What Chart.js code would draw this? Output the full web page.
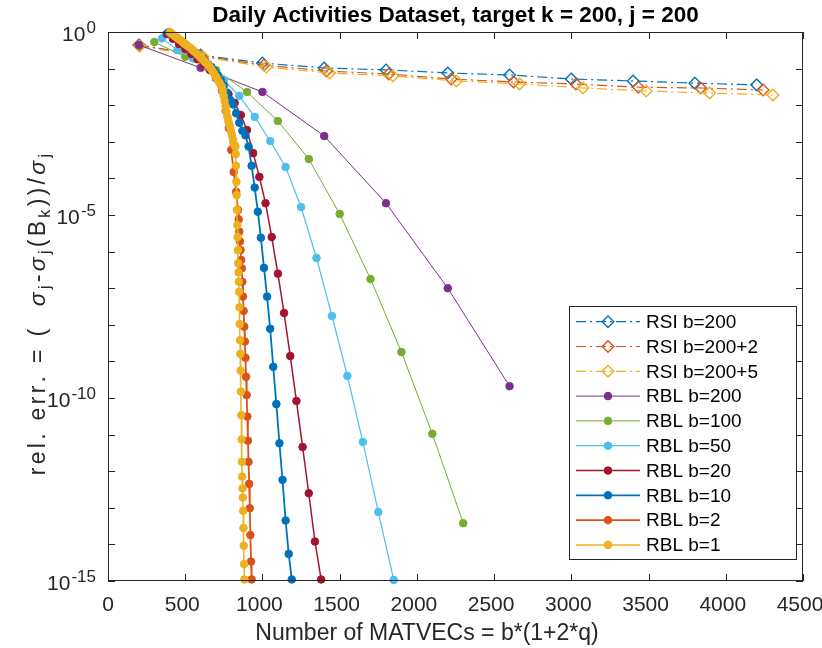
<!DOCTYPE html>
<html>
<head>
<meta charset="utf-8">
<title>Daily Activities Dataset</title>
<script src="https://cdn.jsdelivr.net/npm/chart.js@4.4.1/dist/chart.umd.min.js"></script>
<style>
  html, body { margin: 0; padding: 0; background: #fff; }
  canvas { display: block; }
</style>
</head>
<body>
<canvas id="relErrChart" width="822" height="648"></canvas>
<script>
// ---- data ----
const xTickValues = [0, 500, 1000, 1500, 2000, 2500, 3000, 3500, 4000, 4500];
const yDecades = [0, -1, -2, -3, -4, -5, -6, -7, -8, -9, -10, -11, -12, -13, -14, -15];
const yLabelExponents = [0, -5, -10, -15];

const seriesLabels = ['RSI b=200', 'RSI b=200+2', 'RSI b=200+5', 'RBL b=200', 'RBL b=100',
  'RBL b=50', 'RBL b=20', 'RBL b=10', 'RBL b=2', 'RBL b=1'];

const rsi200X = [200, 600, 1000, 1400, 1800, 2200, 2600, 3000, 3400, 3800, 4200];
const rsi200Y = [0.44, 0.235, 0.142, 0.104, 0.092, 0.076, 0.067, 0.052, 0.046, 0.040, 0.036];
const rsi202X = [202, 606, 1010, 1414, 1818, 2222, 2626, 3030, 3434, 3838, 4242];
const rsi202Y = [0.44, 0.22, 0.125, 0.086, 0.071, 0.052, 0.043, 0.038, 0.031, 0.0295, 0.026];
const rsi205X = [205, 615, 1025, 1435, 1845, 2255, 2665, 3075, 3485, 3895, 4305];
const rsi205Y = [0.41, 0.21, 0.11, 0.076, 0.063, 0.046, 0.038, 0.0295, 0.0244, 0.0215, 0.019];

const rbl200X = [200, 600, 1000, 1400, 1800, 2200, 2600];
const rbl200Y = [0.44, 0.105, 0.023, 1.44e-3, 2.1e-5, 1.0e-7, 2.1e-10];

const rbl100X = [300, 500, 700, 900, 1100, 1300, 1500, 1700, 1900, 2100, 2300];
const rbl100Y = [0.53, 0.21, 0.091, 0.023, 3.7e-3, 3.4e-4, 1.07e-5, 1.78e-7, 1.8e-9, 1.05e-11, 3.8e-14];

const rbl50X = [350, 450, 550, 650, 750, 850, 950, 1050, 1150, 1250, 1350, 1450, 1550, 1650, 1750, 1850];
const rbl50Y = [0.67, 0.32, 0.19, 0.104, 0.049, 0.018, 4.8e-3, 1.05e-3, 2.05e-4, 1.65e-5, 6.7e-7,
  1.74e-8, 4.0e-10, 6.3e-12, 7.7e-14, 1.07e-15];

const rbl20X = [380, 420, 460, 500, 540, 580, 620, 660, 700, 740, 780, 820, 860, 900, 940, 980,
  1020, 1060, 1100, 1140, 1180, 1220, 1260, 1300, 1340, 1380];
const rbl20Y = [0.88, 0.65, 0.47, 0.35, 0.25, 0.18, 0.135, 0.091, 0.059, 0.034, 0.020, 0.0115,
  5.4e-3, 2.1e-3, 4.9e-4, 1.1e-4, 2.1e-5, 2.5e-6, 2.5e-7, 2.1e-8, 1.4e-9, 8.3e-11, 4.6e-12,
  2.5e-13, 1.2e-14, 1.1e-15];

const rbl10X = [390, 410, 430, 450, 470, 490, 510, 530, 550, 570, 590, 610, 630, 650, 670, 690,
  710, 730, 750, 770, 790, 810, 830, 850, 870, 890, 910, 930, 950, 970, 990, 1010, 1030, 1050,
  1070, 1090, 1110, 1130, 1150, 1170, 1190];
const rbl10Y = [0.97, 0.88, 0.78, 0.69, 0.59, 0.50, 0.43, 0.37, 0.31, 0.27, 0.23, 0.19, 0.16,
  0.13, 0.11, 0.086, 0.067, 0.049, 0.035, 0.022, 0.014, 0.0105, 6.0e-3, 3.3e-3, 2.0e-3, 1.5e-3,
  7.4e-4, 2.2e-4, 5.6e-5, 1.23e-5, 2.4e-6, 3.6e-7, 5.9e-8, 7.8e-9, 7.1e-10, 6.8e-11, 5.8e-12,
  5.8e-13, 4.5e-14, 5.5e-15, 1.1e-15];

const rbl2X = [402, 450, 498, 550, 598, 650, 698, 738, 762, 782, 798, 814, 830, 842, 846, 850,
  854, 858, 862, 866, 870, 874, 878, 882, 886, 890, 894, 898, 902, 906, 910, 914, 918, 922, 926, 930];
const rbl2Y = [0.97, 0.68, 0.46, 0.31, 0.19, 0.11, 0.055, 0.025, 7.0e-3, 2.4e-3, 6.0e-4, 1.5e-4,
  4.3e-5, 1.37e-5, 7.6e-6, 3.5e-6, 1.9e-6, 1.1e-6, 5.9e-7, 3.5e-7, 1.5e-7, 5.9e-8, 2.4e-8,
  8.9e-9, 3.5e-9, 1.26e-9, 3.8e-10, 1.2e-10, 3.1e-11, 6.8e-12, 1.8e-12, 4.5e-13, 9.7e-14,
  1.8e-14, 3.4e-15, 1.1e-15];

const rbl1X = [401, 413, 425, 437, 449, 461, 473, 485, 497, 509, 521, 533, 545, 557, 569, 581,
  593, 605, 617, 629, 641, 653, 665, 677, 689, 701, 711, 721, 729, 737, 743, 749, 755, 761, 767,
  773, 779, 785, 791, 797, 803, 809, 815, 821,
  825, 827, 829, 831, 833, 835, 837, 839, 841, 843, 845, 847, 849, 851, 853, 855, 857, 859, 861,
  863, 865, 867, 869, 871, 873, 875, 877, 879, 881, 883];
const rbl1Y = [0.98, 0.89, 0.81, 0.74, 0.69, 0.63, 0.58, 0.52, 0.48, 0.44, 0.40, 0.37, 0.33,
  0.30, 0.27, 0.24, 0.22, 0.195, 0.17, 0.15, 0.135, 0.12, 0.102, 0.085, 0.071, 0.059, 0.049,
  0.042, 0.036, 0.032, 0.025, 0.018, 0.013, 9.3e-3, 6.8e-3, 4.9e-3, 3.8e-3, 3.0e-3, 2.5e-3,
  1.9e-3, 1.5e-3, 1.15e-3, 8.7e-4, 7.9e-4,
  7.3e-4, 4.6e-4, 2.2e-4, 8.1e-5, 3.5e-5, 1.37e-5, 5.3e-6, 2.5e-6, 1.1e-6, 4.8e-7, 2.7e-7,
  1.5e-7, 8.0e-8, 3.0e-8, 1.05e-8, 3.8e-9, 1.6e-9, 5.6e-10, 1.5e-10, 3.4e-11, 7.4e-12, 1.8e-12,
  7.1e-13, 3.4e-13, 1.9e-13, 8.3e-14, 2.8e-14, 9.2e-15, 2.9e-15, 1.1e-15];

// ---- styling ----
const FONT = '"Liberation Sans", Arial, Helvetica, sans-serif';
const AXIS_COLOR = '#262626';

function pts(xs, ys) {
  return xs.map((x, i) => ({ x: x, y: ys[i] }));
}

// RSI: dash-dot with open diamonds, RBL: solid with filled dots
function rsiSet(idx, xs, ys, color) {
  return {
    label: seriesLabels[idx],
    data: pts(xs, ys),
    borderColor: color,
    borderWidth: 1.2,
    borderDash: [10, 4, 2, 4],
    pointStyle: 'rectRot',
    pointRadius: 5.8,
    pointBorderWidth: 1.4,
    pointBorderColor: color,
    pointBackgroundColor: 'rgba(255,255,255,0)',
    order: 9 - idx,
  };
}
function rblSet(idx, xs, ys, color, width) {
  return {
    label: seriesLabels[idx],
    data: pts(xs, ys),
    borderColor: color,
    borderWidth: width,
    pointStyle: 'circle',
    pointRadius: 3.8,
    pointBorderWidth: 1,
    pointBorderColor: color,
    pointBackgroundColor: color,
    order: 9 - idx, // MATLAB puts the last line on top
  };
}

const datasets = [
  rsiSet(0, rsi200X, rsi200Y, '#0072BD'),
  rsiSet(1, rsi202X, rsi202Y, '#D95319'),
  rsiSet(2, rsi205X, rsi205Y, '#EDB120'),
  rblSet(3, rbl200X, rbl200Y, '#7E2F8E', 1),
  rblSet(4, rbl100X, rbl100Y, '#77AC30', 1),
  rblSet(5, rbl50X, rbl50Y, '#4DBEEE', 1.2),
  rblSet(6, rbl20X, rbl20Y, '#A2142F', 1.5),
  rblSet(7, rbl10X, rbl10Y, '#0072BD', 1.8),
  rblSet(8, rbl2X, rbl2Y, '#D95319', 1.8),
  rblSet(9, rbl1X, rbl1Y, '#EDB120', 1.5),
];
datasets.forEach(d => { d.fill = false; d.tension = 0; d.clip = false; });

// draw a marker like the plotted one (used by the legend)
function drawMarker(ctx, ds, x, y) {
  ctx.save();
  ctx.setLineDash([]);
  ctx.lineWidth = ds.pointBorderWidth;
  ctx.strokeStyle = ds.pointBorderColor;
  ctx.fillStyle = ds.pointBackgroundColor;
  ctx.beginPath();
  if (ds.pointStyle === 'rectRot') {
    const r = ds.pointRadius;
    ctx.moveTo(x, y - r); ctx.lineTo(x + r, y); ctx.lineTo(x, y + r); ctx.lineTo(x - r, y);
    ctx.closePath();
  } else {
    ctx.arc(x, y, ds.pointRadius, 0, Math.PI * 2);
  }
  ctx.fill();
  ctx.stroke();
  ctx.restore();
}

// draw a run of text pieces (with sub/superscripts), char by char with extra spacing
function drawRich(ctx, pieces, x, y, spacing, measureOnly) {
  let cx = x;
  pieces.forEach(p => {
    ctx.font = p.font;
    for (const ch of p.t) {
      if (!measureOnly) ctx.fillText(ch, cx, y + (p.dy || 0));
      cx += ctx.measureText(ch).width + spacing;
    }
  });
  return cx - x;
}

// MATLAB-like axes: box, inward ticks, tick labels, labels, title, legend
const matlabAxes = {
  id: 'matlabAxes',
  afterDraw(chart) {
    const ctx = chart.ctx;
    const area = chart.chartArea;
    const xs = chart.scales.x;
    const ys = chart.scales.y;
    ctx.save();
    ctx.setLineDash([]);
    ctx.strokeStyle = AXIS_COLOR;
    ctx.lineWidth = 1;

    ctx.beginPath();
    xTickValues.forEach(v => {
      const px = Math.round(xs.getPixelForValue(v)) + 0.5;
      ctx.moveTo(px, area.bottom); ctx.lineTo(px, area.bottom - 7);
      ctx.moveTo(px, area.top); ctx.lineTo(px, area.top + 7);
    });
    yDecades.forEach(e => {
      const py = Math.round(ys.getPixelForValue(Math.pow(10, e))) + 0.5;
      ctx.moveTo(area.left, py); ctx.lineTo(area.left + 7, py);
      ctx.moveTo(area.right, py); ctx.lineTo(area.right - 7, py);
    });
    ctx.stroke();
    ctx.strokeRect(area.left + 0.5, area.top + 0.5, area.right - area.left - 1, area.bottom - area.top - 1);

    // x tick labels
    ctx.fillStyle = AXIS_COLOR;
    ctx.font = '21px ' + FONT;
    ctx.textAlign = 'center';
    ctx.textBaseline = 'alphabetic';
    xTickValues.forEach(v => {
      const px = xs.getPixelForValue(v) - (v > 0 ? 3 : 0);
      ctx.fillText(String(v), px, 611);
    });

    // y tick labels 10^n
    ctx.textAlign = 'left';
    yLabelExponents.forEach(e => {
      const py = ys.getPixelForValue(Math.pow(10, e));
      const pieces = [
        { t: '10', font: '21px ' + FONT },
        { t: ' ', font: '4px ' + FONT },
        { t: String(e), font: '17px ' + FONT, dy: -8 },
      ];
      const w = drawRich(ctx, pieces, 0, 0, 0, true);
      drawRich(ctx, pieces, 96 - w, py + 9, 0);
    });

    // x label
    ctx.font = '23px ' + FONT;
    ctx.textAlign = 'center';
    ctx.fillText('Number of MATVECs = b*(1+2*q)', 427, 640);

    // y label (rotated, MATLAB spreads the glyphs)
    const big = '23px ' + FONT;
    const sig = 'italic 23px ' + FONT;
    const sub = '16px ' + FONT;
    const yPieces = [
      { t: 'rel. err. = (  ', font: big },
      { t: 'σ', font: sig }, { t: 'j', font: sub, dy: 5 },
      { t: '-', font: big },
      { t: 'σ', font: sig }, { t: 'j', font: sub, dy: 5 },
      { t: '(B', font: big }, { t: 'k', font: sub, dy: 5 },
      { t: '))/', font: big },
      { t: 'σ', font: sig }, { t: 'j', font: sub, dy: 5 },
    ];
    ctx.save();
    ctx.translate(45, 313);
    ctx.rotate(-Math.PI / 2);
    ctx.textAlign = 'left';
    const yw = drawRich(ctx, yPieces, 0, 0, 3.3, true);
    drawRich(ctx, yPieces, -yw / 2, 0, 3.3);
    ctx.restore();

    // title
    ctx.fillStyle = '#000';
    ctx.font = 'bold 22.5px ' + FONT;
    ctx.textAlign = 'center';
    ctx.fillText('Daily Activities Dataset, target k = 200, j = 200', (area.left + area.right) / 2, 22);

    // legend box
    const lx0 = 569.5, ly0 = 306.5, lx1 = 796.5, ly1 = 559.5;
    ctx.fillStyle = '#fff';
    ctx.fillRect(lx0, ly0, lx1 - lx0, ly1 - ly0);
    ctx.strokeStyle = AXIS_COLOR;
    ctx.lineWidth = 1;
    ctx.strokeRect(lx0, ly0, lx1 - lx0, ly1 - ly0);
    ctx.font = '19px ' + FONT;
    ctx.textAlign = 'left';
    ctx.textBaseline = 'middle';
    chart.data.datasets.forEach((ds, i) => {
      const yy = 321.7 + i * 24.8;
      ctx.save();
      ctx.strokeStyle = ds.borderColor;
      ctx.lineWidth = ds.borderWidth;
      ctx.setLineDash(ds.borderDash || []);
      ctx.beginPath();
      ctx.moveTo(576, yy); ctx.lineTo(640, yy);
      ctx.stroke();
      ctx.restore();
      drawMarker(ctx, ds, 608, yy);
      ctx.fillStyle = '#000';
      ctx.fillText(ds.label, 646, yy + 1);
    });
    ctx.restore();
  }
};

new Chart(document.getElementById('relErrChart'), {
  type: 'line',
  data: { datasets: datasets },
  options: {
    responsive: false,
    animation: false,
    devicePixelRatio: 1,
    layout: { padding: { top: 32, right: 19, left: 0, bottom: 0 } },
    plugins: {
      legend: { display: false },
      tooltip: { enabled: false },
      title: { display: false },
    },
    scales: {
      x: {
        type: 'linear', min: 0, max: 4500,
        ticks: { display: false },
        grid: { display: false, drawTicks: false },
        border: { display: false },
        afterFit: s => { s.height = 67; },
      },
      y: {
        type: 'logarithmic', min: 1e-15, max: 1,
        ticks: { display: false },
        grid: { display: false, drawTicks: false },
        border: { display: false },
        afterFit: s => { s.width = 108; },
      },
    },
  },
  plugins: [matlabAxes],
});
</script>
</body>
</html>
